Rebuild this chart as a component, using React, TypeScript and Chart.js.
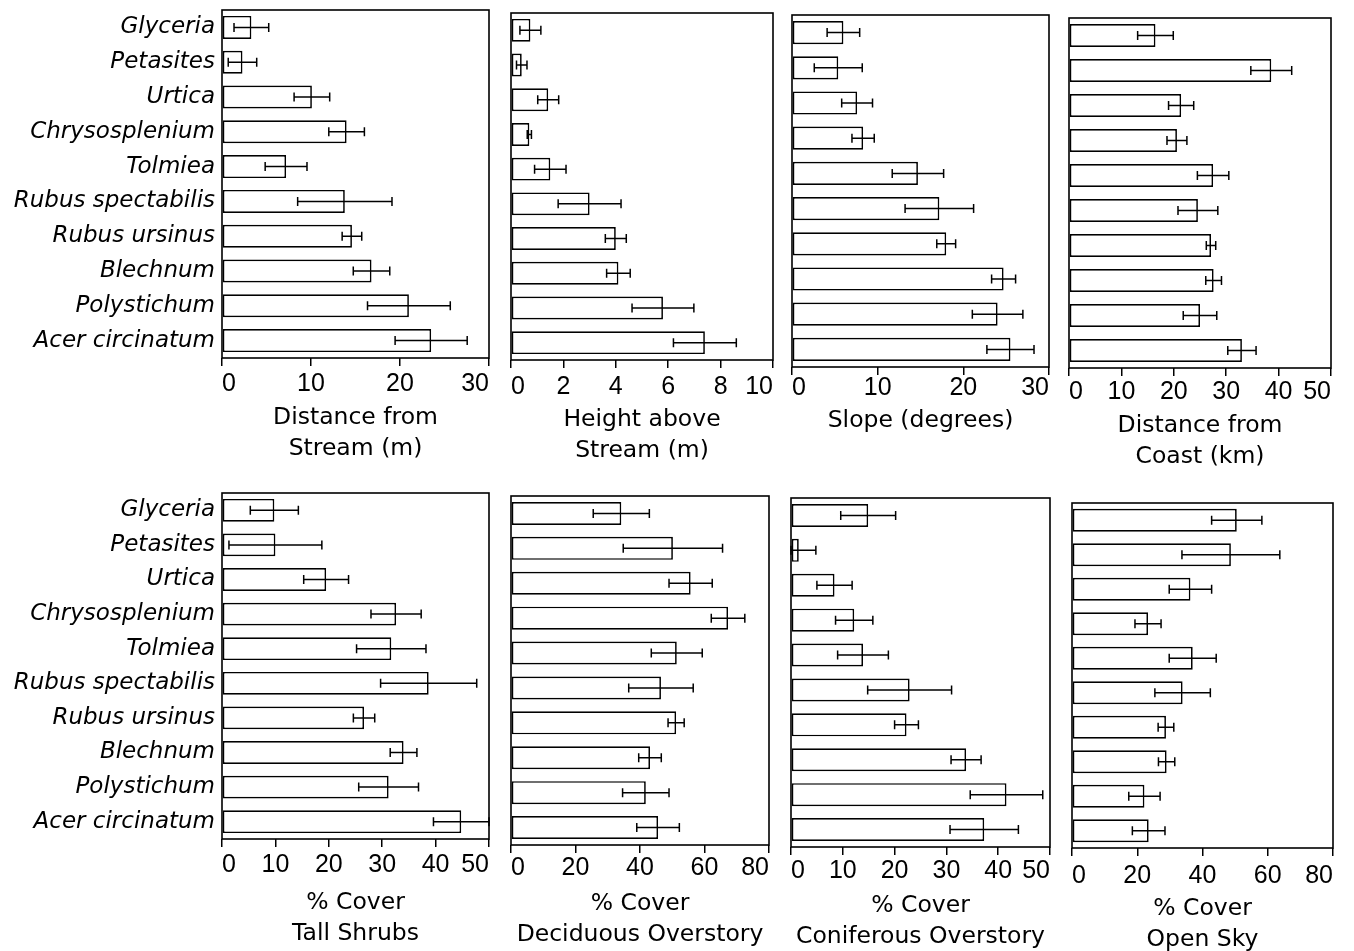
import React, { useEffect, useRef } from 'react';
import { Chart, registerables } from 'chart.js';

Chart.register(...registerables);

// ---------- data ----------
const categories = [
  'Glyceria',
  'Petasites',
  'Urtica',
  'Chrysosplenium',
  'Tolmiea',
  'Rubus spectabilis',
  'Rubus ursinus',
  'Blechnum',
  'Polystichum',
  'Acer circinatum',
];

const distStreamMean = [3.3, 2.3, 10.1, 14.0, 7.2, 13.8, 14.6, 16.8, 21.0, 23.5];
const distStreamErr = [1.95, 1.6, 2.0, 2.0, 2.35, 5.3, 1.1, 2.05, 4.65, 4.05];

const heightStreamMean = [0.74, 0.41, 1.42, 0.7, 1.5, 3.0, 4.0, 4.1, 5.8, 7.4];
const heightStreamErr = [0.4, 0.2, 0.4, 0.08, 0.6, 1.2, 0.4, 0.45, 1.18, 1.2];

const slopeMean = [6.0, 5.4, 7.6, 8.3, 14.7, 17.2, 18.0, 24.7, 24.0, 25.5];
const slopeErr = [1.9, 2.8, 1.8, 1.3, 3.0, 4.0, 1.1, 1.4, 2.95, 2.75];

const coastMean = [16.5, 38.6, 21.4, 20.6, 27.5, 24.6, 27.1, 27.6, 25.0, 33.0];
const coastErr = [3.4, 3.9, 2.4, 1.9, 3.0, 3.8, 0.9, 1.5, 3.2, 2.7];

const tallShrubsMean = [9.8, 10.0, 19.5, 32.6, 31.7, 38.7, 26.6, 34.0, 31.2, 44.8];
const tallShrubsErr = [4.5, 8.7, 4.2, 4.7, 6.5, 9.0, 2.0, 2.5, 5.6, 5.2];

const deciduousMean = [34.2, 50.2, 55.7, 67.3, 51.4, 46.5, 51.2, 43.1, 41.8, 45.6];
const deciduousErr = [8.7, 15.4, 6.7, 5.2, 7.9, 10.0, 2.5, 3.5, 7.2, 6.6];

const coniferousMean = [14.9, 1.5, 8.4, 12.2, 13.9, 22.9, 22.3, 33.8, 41.6, 37.3];
const coniferousErr = [5.3, 3.3, 3.4, 3.6, 4.9, 8.1, 2.3, 2.9, 7.0, 6.6];

const openSkyMean = [50.5, 48.7, 36.3, 23.3, 37.0, 33.9, 28.8, 29.0, 22.2, 23.5];
const openSkyErr = [7.7, 15.0, 6.5, 4.0, 7.2, 8.5, 2.4, 2.5, 4.8, 5.0];

const panelTitles = [
  ['Distance from', 'Stream (m)'],
  ['Height above', 'Stream (m)'],
  ['Slope (degrees)'],
  ['Distance from', 'Coast (km)'],
  ['% Cover', 'Tall Shrubs'],
  ['% Cover', 'Deciduous Overstory'],
  ['% Cover', 'Coniferous Overstory'],
  ['% Cover', 'Open Sky'],
];
const axisMax = [30, 10, 30, 50, 50, 80, 50, 80];
const axisStep = [10, 2, 10, 10, 10, 20, 10, 20];

const panelMeans = [
  distStreamMean, heightStreamMean, slopeMean, coastMean,
  tallShrubsMean, deciduousMean, coniferousMean, openSkyMean,
];
const panelErrs = [
  distStreamErr, heightStreamErr, slopeErr, coastErr,
  tallShrubsErr, deciduousErr, coniferousErr, openSkyErr,
];

// ---------- layout ----------
const W = 1354;
const H = 1000;
const LH = 31;
const FONT = "'DejaVu Sans', sans-serif";
const NUM_FONT = "'Liberation Sans', Arial, sans-serif";
const NUM_SIZE = 25;
const TICK_LEN = 8;

const LAYOUT = [
  { L: 222, T: 10, R: 489, B: 358, tickY: 384, titleY: 417.5, labels: true },
  { L: 511, T: 13, R: 773, B: 360, tickY: 386.7, titleY: 419.5, labels: false },
  { L: 792, T: 15, R: 1049, B: 367, tickY: 388, titleY: 421, labels: false },
  { L: 1069, T: 18, R: 1331, B: 368, tickY: 391.7, titleY: 425.5, labels: false },
  { L: 222, T: 493, R: 489, B: 839, tickY: 865, titleY: 902.5, labels: true },
  { L: 511, T: 496, R: 769, B: 845, tickY: 868.3, titleY: 904, labels: false },
  { L: 791, T: 498, R: 1050, B: 847, tickY: 870.8, titleY: 905.8, labels: false },
  { L: 1072, T: 503, R: 1333, B: 848, tickY: 876.5, titleY: 909, labels: false },
];

const framePlugin = {
  id: 'frameBox',
  afterDatasetsDraw(chart: any) {
    const { ctx, chartArea } = chart;
    ctx.save();
    ctx.strokeStyle = '#000';
    ctx.lineWidth = 1.6;
    ctx.strokeRect(chartArea.left, chartArea.top, chartArea.right - chartArea.left, chartArea.bottom - chartArea.top);
    ctx.restore();
  },
};

const errorBarPlugin = {
  id: 'errorBars',
  afterDatasetsDraw(chart: any) {
    const { ctx } = chart;
    const ds = chart.data.datasets[0];
    const means = ds.data as number[];
    const errs = ds.errors as number[];
    const meta = chart.getDatasetMeta(0);
    const xs = chart.scales.x;
    ctx.save();
    ctx.strokeStyle = '#000';
    ctx.lineWidth = 1.5;
    meta.data.forEach((bar: any, i: number) => {
      const lo = Math.max(xs.min, means[i] - errs[i]);
      const hi = Math.min(xs.max, means[i] + errs[i]);
      const x1 = xs.getPixelForValue(lo);
      const x2 = xs.getPixelForValue(hi);
      const y = bar.y;
      const c = 4.5;
      ctx.beginPath();
      ctx.moveTo(x1, y);
      ctx.lineTo(x2, y);
      ctx.moveTo(x1, y - c);
      ctx.lineTo(x1, y + c);
      ctx.moveTo(x2, y - c);
      ctx.lineTo(x2, y + c);
      ctx.stroke();
    });
    ctx.restore();
  },
};

function Panel({ idx }: { idx: number }) {
  const ref = useRef<HTMLCanvasElement>(null);
  useEffect(() => {
    const lay = LAYOUT[idx];
    const titles = panelTitles[idx];
    const xBottom = lay.titleY + LH / 2 + LH * (titles.length - 1);
    const tickPad = lay.tickY - lay.B - TICK_LEN - (NUM_SIZE * 1.2) / 2;
    const chart = new Chart(ref.current as HTMLCanvasElement, {
      type: 'bar',
      data: {
        labels: categories,
        datasets: [
          {
            data: panelMeans[idx],
            errors: panelErrs[idx],
            backgroundColor: '#ffffff',
            borderColor: '#000000',
            borderWidth: 1.7,
            borderSkipped: false,
            barPercentage: 0.66,
            categoryPercentage: 1,
          } as any,
        ],
      },
      options: {
        indexAxis: 'y',
        responsive: false,
        animation: false,
        events: [],
        layout: {
          padding: { left: 0, top: lay.T, right: W - lay.R, bottom: H - xBottom },
        },
        plugins: {
          legend: { display: false },
          tooltip: { enabled: false },
        },
        scales: {
          x: {
            type: 'linear',
            position: 'bottom',
            min: 0,
            max: axisMax[idx],
            ticks: {
              stepSize: axisStep[idx],
              autoSkip: false,
              maxRotation: 0,
              align: 'inner',
              color: '#000',
              padding: tickPad,
              font: { family: NUM_FONT, size: NUM_SIZE },
            },
            grid: {
              drawOnChartArea: false,
              drawTicks: true,
              tickLength: TICK_LEN,
              color: '#000',
              lineWidth: 1.5,
            },
            border: { display: false },
            title: {
              display: true,
              text: titles,
              color: '#000',
              padding: 0,
              font: { family: FONT, size: 23.5, lineHeight: LH / 23.5 },
            },
            afterFit: (s: any) => {
              s.height = xBottom - lay.B;
            },
          },
          y: {
            ticks: {
              display: lay.labels,
              color: '#000',
              padding: 7,
              font: { family: FONT, size: 23, style: 'italic' },
            },
            grid: { display: false, drawTicks: false },
            border: { display: false },
            afterFit: (s: any) => {
              s.width = lay.L;
              s.paddingTop = 0;
              s.paddingBottom = 0;
            },
          },
        },
      } as any,
      plugins: [framePlugin, errorBarPlugin],
    });
    return () => chart.destroy();
  }, [idx]);
  return (
    <canvas
      ref={ref}
      width={W}
      height={H}
      style={{ position: 'absolute', left: 0, top: 0, width: W, height: H }}
    />
  );
}

export default function App() {
  return (
    <div
      style={{
        position: 'fixed',
        left: 0,
        top: 0,
        width: W,
        height: 951,
        overflow: 'hidden',
        background: '#fff',
      }}
    >
      {LAYOUT.map((_, i) => (
        <Panel key={i} idx={i} />
      ))}
    </div>
  );
}
